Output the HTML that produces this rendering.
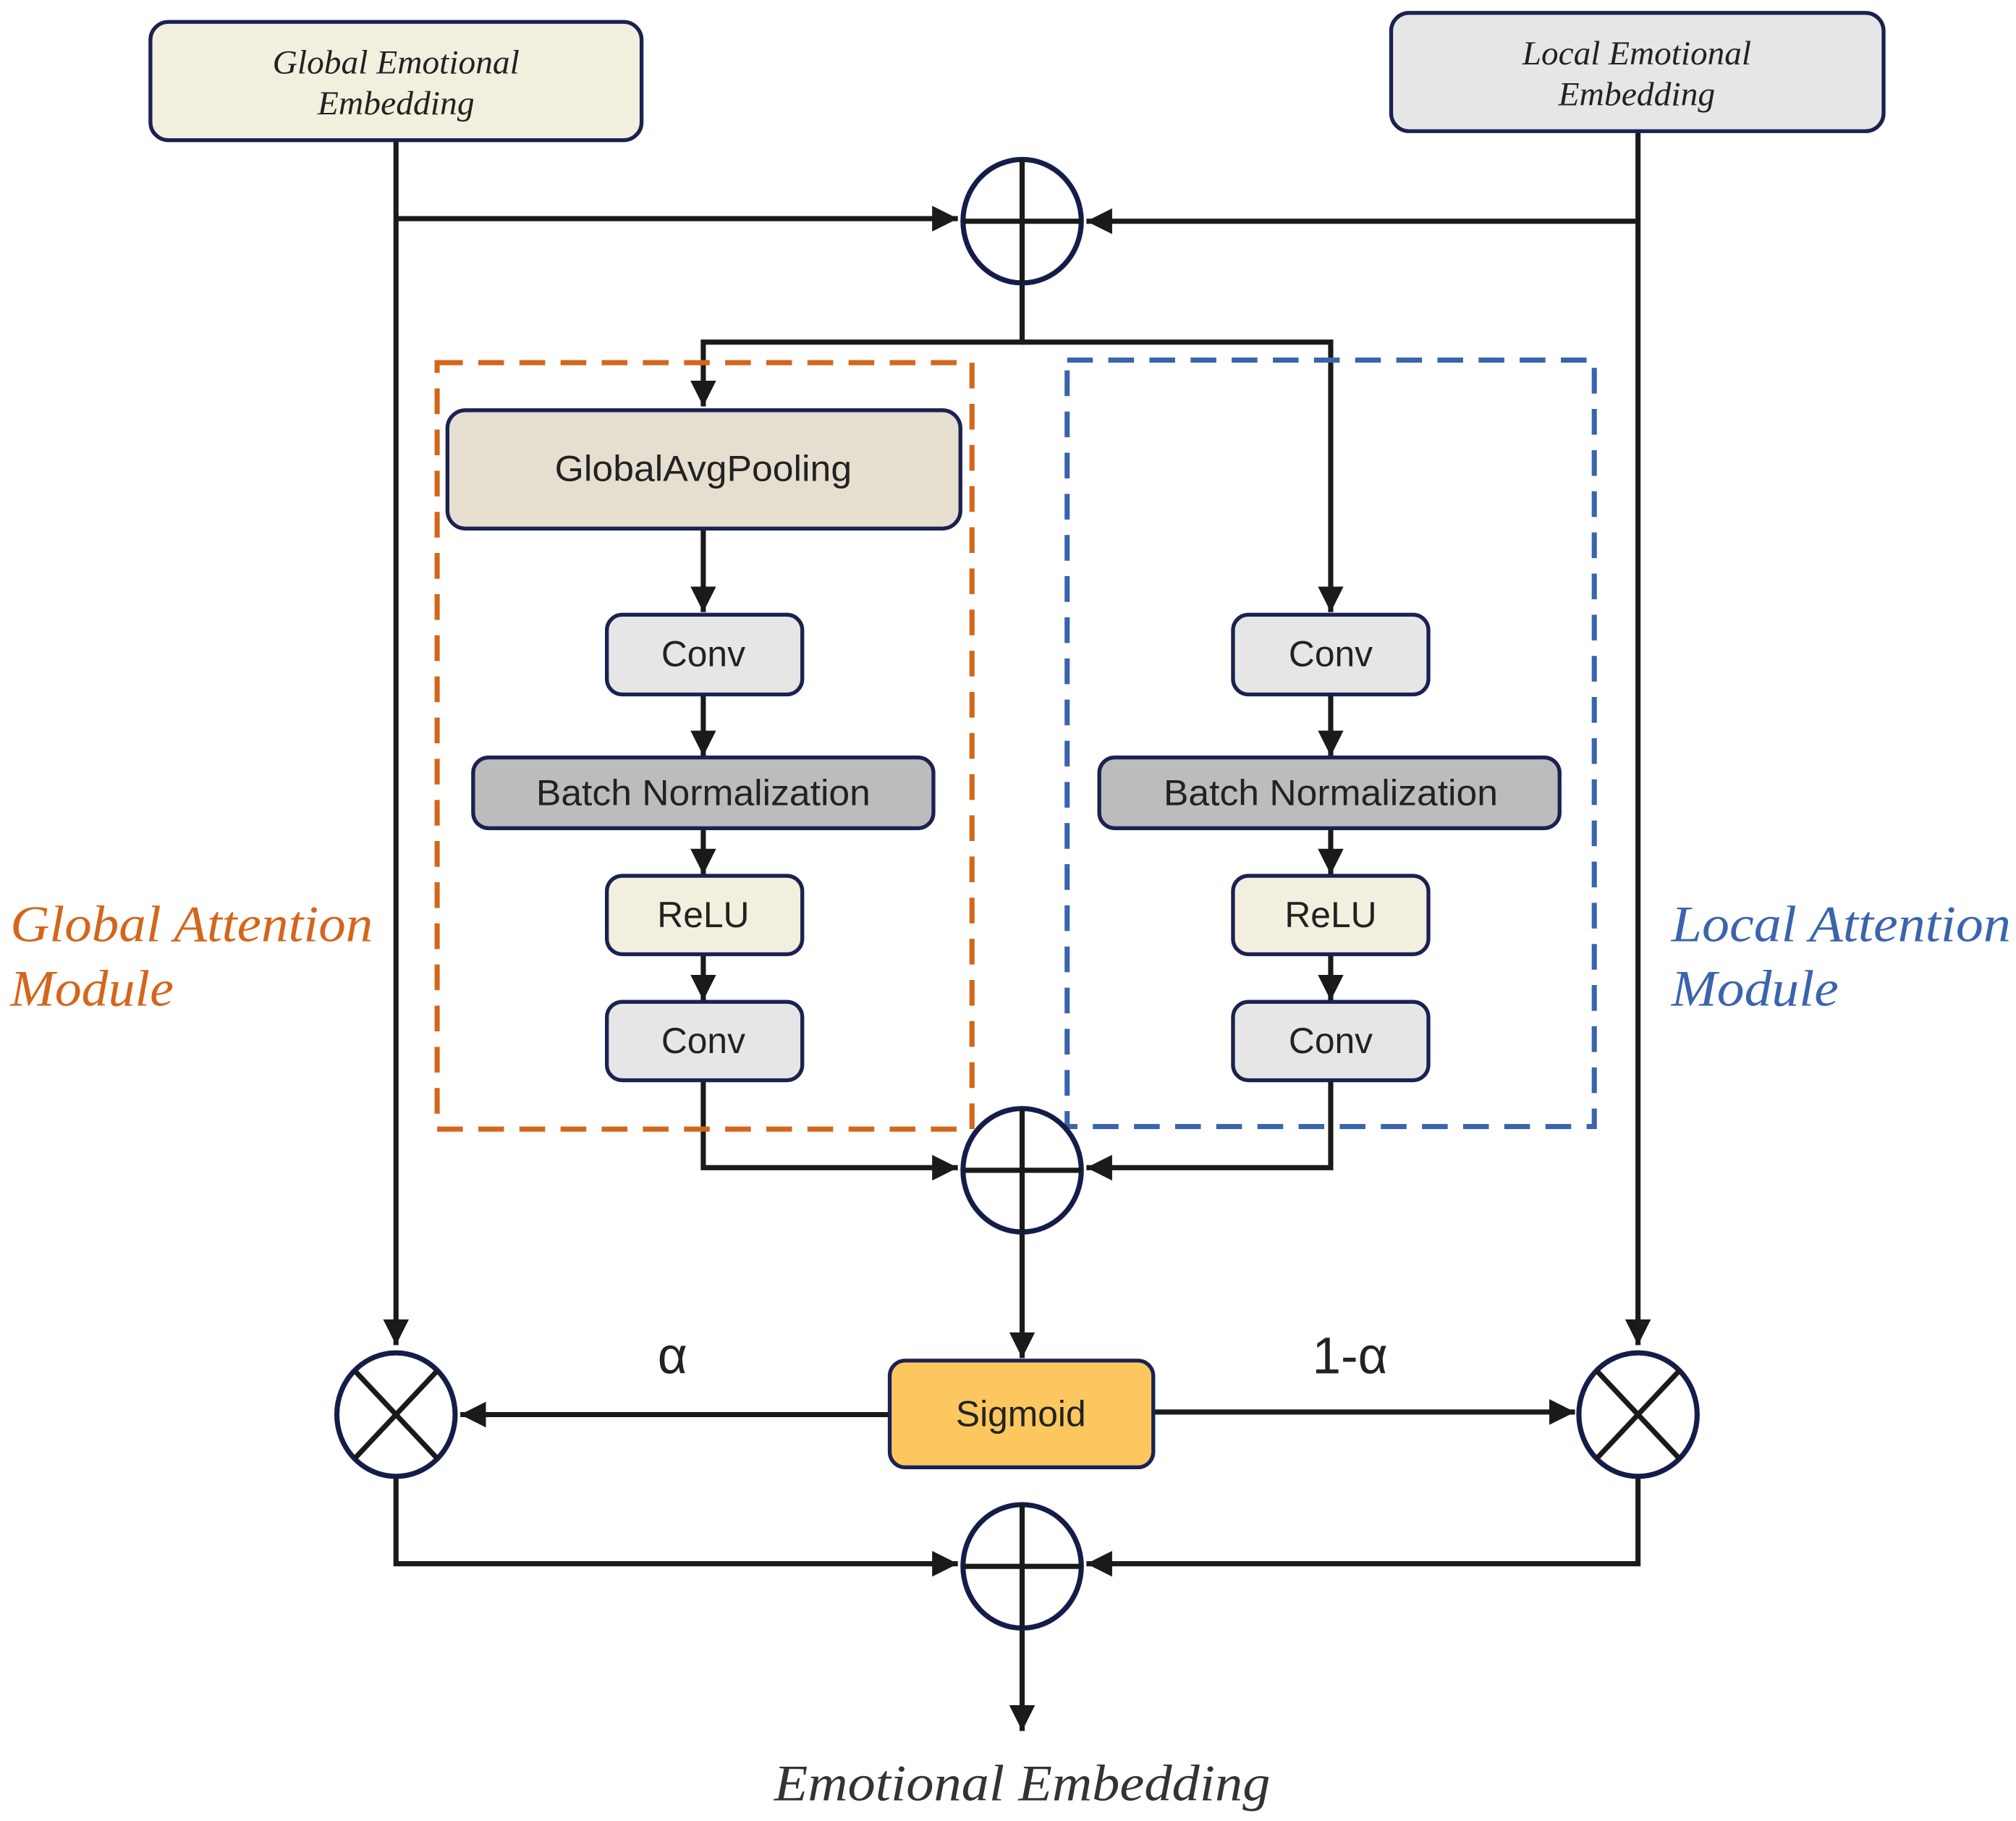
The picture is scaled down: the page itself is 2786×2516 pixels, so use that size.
<!DOCTYPE html>
<html><head><meta charset="utf-8"><style>html,body{margin:0;padding:0;background:#fff}svg{display:block}</style></head>
<body>
<svg width="2786" height="2516" viewBox="0 0 1568 1416" xmlns="http://www.w3.org/2000/svg">
<defs>
<marker id="b" viewBox="0 0 10 10" refX="10" refY="5" markerWidth="20" markerHeight="20" orient="auto" markerUnits="userSpaceOnUse"><path d="M0,0 L10,5 L0,10 z" fill="#1a1a1a"/></marker>
</defs>
<g fill="none" stroke="#1a1a1a" stroke-width="4">
<path d="M308,110 V1046" marker-end="url(#b)"/>
<path d="M308,170 H745" marker-end="url(#b)"/>
<path d="M1274,102 V1046" marker-end="url(#b)"/>
<path d="M1274,172 H845" marker-end="url(#b)"/>
<path d="M795,218 V266 H547 V316" marker-end="url(#b)"/>
<path d="M795,266 H1035 V476" marker-end="url(#b)"/>
<path d="M547,412 V476" marker-end="url(#b)"/>
<path d="M547,540 V588" marker-end="url(#b)"/>
<path d="M547,644 V680" marker-end="url(#b)"/>
<path d="M547,742 V778" marker-end="url(#b)"/>
<path d="M1035,540 V588" marker-end="url(#b)"/>
<path d="M1035,644 V680" marker-end="url(#b)"/>
<path d="M1035,742 V778" marker-end="url(#b)"/>
<path d="M547,840 V908 H745" marker-end="url(#b)"/>
<path d="M1035,840 V908 H845" marker-end="url(#b)"/>
<path d="M795,956 V1056" marker-end="url(#b)"/>
<path d="M692,1100 H358" marker-end="url(#b)"/>
<path d="M897,1098 H1225" marker-end="url(#b)"/>
<path d="M308,1148 V1216 H745" marker-end="url(#b)"/>
<path d="M1274,1148 V1216 H845" marker-end="url(#b)"/>
<path d="M795,1264 V1346" marker-end="url(#b)"/>
</g>
<rect x="340" y="282" width="416" height="596" fill="none" stroke="#d4661c" stroke-width="4" stroke-dasharray="20,12"/>
<rect x="830" y="280" width="410" height="596" fill="none" stroke="#3a64ad" stroke-width="4" stroke-dasharray="20,12"/>
<g stroke="#1b2150" stroke-width="3">
<rect x="117" y="17" width="382" height="92" rx="14" fill="#f3efdf"/>
<rect x="1082" y="10" width="383" height="92" rx="14" fill="#e6e6e6"/>
<rect x="348" y="319" width="399" height="92" rx="14" fill="#e6dfd0"/>
<rect x="472" y="478" width="152" height="62" rx="12" fill="#e6e6e6"/>
<rect x="368" y="589" width="358" height="55" rx="12" fill="#bcbcbc"/>
<rect x="472" y="681" width="152" height="61" rx="12" fill="#f3efdf"/>
<rect x="472" y="779" width="152" height="61" rx="12" fill="#e6e6e6"/>
<rect x="959" y="478" width="152" height="62" rx="12" fill="#e6e6e6"/>
<rect x="855" y="589" width="358" height="55" rx="12" fill="#bcbcbc"/>
<rect x="959" y="681" width="152" height="61" rx="12" fill="#f3efdf"/>
<rect x="959" y="779" width="152" height="61" rx="12" fill="#e6e6e6"/>
<rect x="692" y="1058" width="205" height="83" rx="12" fill="#fdc75f"/>
</g>
<g fill="none" stroke="#141d4a" stroke-width="4">
<ellipse cx="795" cy="172" rx="46" ry="48"/>
<ellipse cx="795" cy="910" rx="46" ry="48"/>
<ellipse cx="795" cy="1218" rx="46" ry="48"/>
<ellipse cx="308" cy="1100" rx="46" ry="48"/>
<ellipse cx="1274" cy="1100" rx="46" ry="48"/>
</g>
<g stroke="#1a1a1a" stroke-width="4">
<path d="M749,172 H841 M795,124 V220"/>
<path d="M749,910 H841 M795,862 V958"/>
<path d="M749,1218 H841 M795,1170 V1266"/>
<path d="M276,1066 L340,1134 M340,1066 L276,1134"/>
<path d="M1242,1066 L1306,1134 M1306,1066 L1242,1134"/>
</g>
<g font-family="'Liberation Serif', serif" font-style="italic" fill="#222" font-size="26" text-anchor="middle">
<text x="308" y="57" textLength="192" lengthAdjust="spacingAndGlyphs">Global Emotional</text>
<text x="308" y="89" textLength="122" lengthAdjust="spacingAndGlyphs">Embedding</text>
<text x="1273" y="50" textLength="178" lengthAdjust="spacingAndGlyphs">Local Emotional</text>
<text x="1273" y="82" textLength="122" lengthAdjust="spacingAndGlyphs">Embedding</text>
<text x="795" y="1400" font-size="40" fill="#333" textLength="386" lengthAdjust="spacingAndGlyphs">Emotional Embedding</text>
</g>
<g font-family="'Liberation Serif', serif" font-style="italic" font-size="40">
<text x="8" y="732" fill="#d4661c" textLength="282" lengthAdjust="spacingAndGlyphs">Global Attention</text>
<text x="8" y="782" fill="#d4661c" textLength="127" lengthAdjust="spacingAndGlyphs">Module</text>
<text x="1300" y="732" fill="#3a64ad" textLength="264" lengthAdjust="spacingAndGlyphs">Local Attention</text>
<text x="1300" y="782" fill="#3a64ad" textLength="130" lengthAdjust="spacingAndGlyphs">Module</text>
</g>
<g font-family="'Liberation Sans', sans-serif" fill="#222" font-size="28" text-anchor="middle">
<text x="547" y="374" textLength="231" lengthAdjust="spacingAndGlyphs">GlobalAvgPooling</text>
<text x="547" y="518">Conv</text>
<text x="547" y="626" textLength="260" lengthAdjust="spacingAndGlyphs">Batch Normalization</text>
<text x="547" y="721">ReLU</text>
<text x="547" y="819">Conv</text>
<text x="1035" y="518">Conv</text>
<text x="1035" y="626" textLength="260" lengthAdjust="spacingAndGlyphs">Batch Normalization</text>
<text x="1035" y="721">ReLU</text>
<text x="1035" y="819">Conv</text>
<text x="794" y="1109">Sigmoid</text>
<text x="523" y="1068" font-size="40">α</text>
<text x="1050" y="1068" font-size="40">1-α</text>
</g>
</svg>
</body></html>
